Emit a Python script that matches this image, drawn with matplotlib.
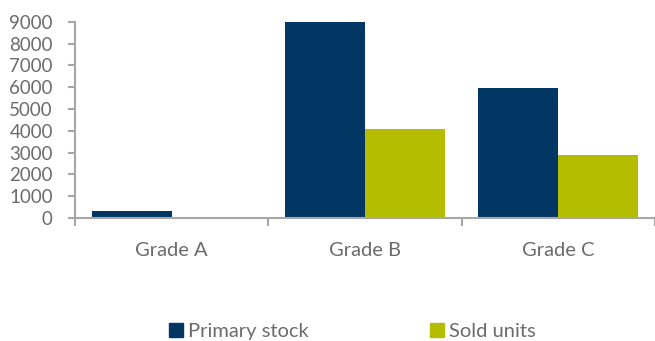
import numpy as np
import matplotlib
matplotlib.use("Agg")
import matplotlib.pyplot as plt
from matplotlib.patches import Patch

# Data
categories = ["Grade A", "Grade B", "Grade C"]
primary_stock = [330, 9000, 5950]
sold_units = [20, 4100, 2900]

navy = "#023763"
olive = "#b5bd00"
grey_text = "#6b6b6b"
grey_axis = "#a6a6a6"

plt.rcParams["font.family"] = ["Lato", "DejaVu Sans"]

fig = plt.figure(figsize=(6.55, 3.41), dpi=100)
ax = fig.add_axes([75 / 655, 1 - 218 / 341, 1 - 75 / 655, (218 - 21.7) / 341])

x = np.arange(len(categories))
w = 0.413
ax.bar(x - w / 2, primary_stock, w, color=navy, zorder=2)
ax.bar(x + w / 2, sold_units, w, color=olive, zorder=2)

ax.set_xlim(-0.5, len(categories) - 0.5)
ax.set_ylim(0, 9000)
ax.set_yticks(np.arange(0, 9001, 1000))
ax.tick_params(axis="y", colors=grey_axis, labelcolor=grey_text, labelsize=13.5,
               length=5, width=1.5, pad=11)

# category boundaries as tick marks, labels on centres
ax.set_xticks(np.arange(-0.5, len(categories), 1.0))
ax.set_xticklabels([])
ax.set_xticks(x, minor=True)
ax.set_xticklabels(categories, minor=True)
ax.tick_params(axis="x", which="major", colors=grey_axis, length=6, width=1.5)
ax.tick_params(axis="x", which="minor", length=0, labelcolor=grey_text,
               labelsize=14.5, pad=17)

for side in ["top", "right"]:
    ax.spines[side].set_visible(False)
for side in ["left", "bottom"]:
    ax.spines[side].set_color(grey_axis)
    ax.spines[side].set_linewidth(1.5)

handles = [Patch(color=navy, label="Primary stock"),
           Patch(color=olive, label="Sold units")]
fig.legend(handles=handles, loc="center", bbox_to_anchor=(0.538, 0.028),
           ncol=2, frameon=False, fontsize=14.5, labelcolor=grey_text,
           handlelength=0.7, handleheight=0.7, handletextpad=0.25,
           columnspacing=6.0)

fig.savefig("out.png", dpi=100)
